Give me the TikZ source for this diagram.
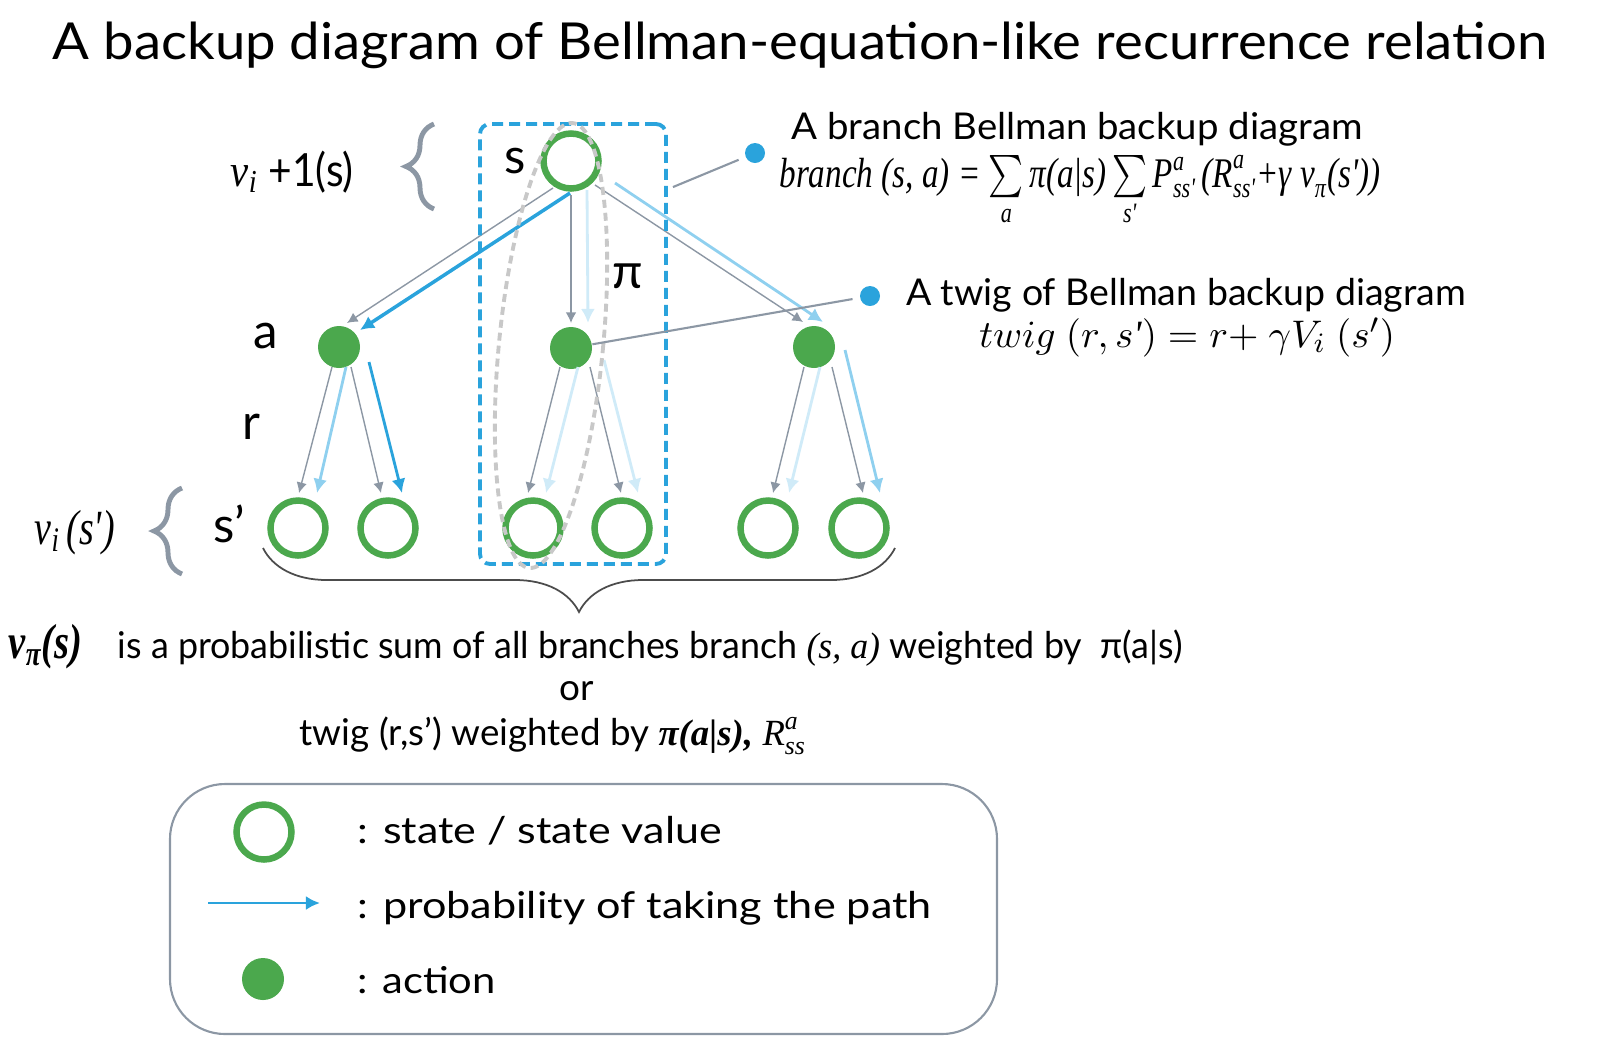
\documentclass[tikz,border=0pt]{standalone}
\usepackage{amsmath}
\usepackage[no-math]{fontspec}
\setmainfont{Lato}
\newfontfamily\tms{Liberation Serif}
\usetikzlibrary{arrows.meta,decorations.pathreplacing}

\definecolor{stgreen}{HTML}{4BA84D}
\definecolor{pblue}{HTML}{2AA3DC}
\definecolor{plight}{HTML}{8FD0EF}
\definecolor{pvlight}{HTML}{D0EBF8}
\definecolor{edgegrey}{HTML}{8C97A4}
\definecolor{ovalgrey}{HTML}{C8C8C8}

% times italic pieces and width fitting
\newcommand{\ti}[1]{\text{\tms\itshape #1}}
\newcommand{\sqz}[2]{\resizebox{#1}{\height}{#2}}

\tikzset{
  state/.style={circle, draw=stgreen, line width=0.065cm, minimum size=0.55cm, inner sep=0pt},
  action/.style={circle, fill=stgreen, minimum size=0.42cm, inner sep=0pt},
  callout/.style={circle, fill=pblue, minimum size=0.2cm, inner sep=0pt},
  gedge/.style={edgegrey, line width=0.4pt, -{Latex[length=3pt,width=3pt]}},
  bedge/.style={pblue, line width=0.8pt, -{Latex[length=4pt,width=4pt]}},
  ledge/.style={plight, line width=0.8pt, -{Latex[length=4pt,width=4pt]}},
  vedge/.style={pvlight, line width=0.8pt, -{Latex[length=4pt,width=4pt]}},
  lbl/.style={inner sep=0pt, font=\fontsize{14}{16}\selectfont},
  txt/.style={inner sep=0pt, anchor=base},
  gbrace/.style={decorate, decoration={brace, amplitude=0.28cm}, edgegrey, line width=1.4pt},
}

\begin{document}
\begin{tikzpicture}
\useasboundingbox (0,0) rectangle (16,-10.5);
\node[txt, font=\fontsize{14.5}{17}\selectfont] (title) at (8.00,-0.59) {\sqz{14.94cm}{A backup diagram of Bellman-equation-like recurrence relation}};

% states and actions
\node[state] (s) at (5.71,-1.61) {};
\node[action] (a1) at (3.39,-3.47) {};
\node[action] (a2) at (5.71,-3.48) {};
\node[action] (a3) at (8.14,-3.47) {};
\node[state] (l1) at (2.98,-5.28) {};
\node[state] (l2) at (3.88,-5.28) {};
\node[state] (l3) at (5.33,-5.28) {};
\node[state] (l4) at (6.22,-5.28) {};
\node[state] (l5) at (7.68,-5.28) {};
\node[state] (l6) at (8.59,-5.28) {};

\node[lbl] (ls) at (5.15,-1.61) {s};
\node[lbl] (la) at (2.66,-3.36) {a};
\node[lbl] (lr) at (2.51,-4.27) {r};
\node[lbl] (lsp) at (2.29,-5.24) {s'};
\node[lbl] (lpi) at (6.28,-2.76) {π};

% s to actions
\draw[gedge] ([shift={(-0.18,-0.27)}]s.center) -- ([shift={(0.08,0.24)}]a1.center);
\draw[bedge, line width=1pt] ([shift={(-0.01,-0.32)}]s.center) -- ([shift={(0.21,0.17)}]a1.center);
\draw[gedge] ([shift={(0,-0.34)}]s.center) -- ([shift={(0,0.25)}]a2.center);
\draw[vedge] ([shift={(0.16,-0.29)}]s.center) -- ([shift={(0.17,0.25)}]a2.center);
\draw[gedge] ([shift={(0.24,-0.24)}]s.center) -- ([shift={(-0.11,0.25)}]a3.center);
\draw[ledge] ([shift={(0.44,-0.22)}]s.center) -- ([shift={(0.09,0.25)}]a3.center);

% actions to next states
\draw[gedge] ([shift={(-0.07,-0.20)}]a1.center) -- ([shift={(0.01,0.35)}]l1.center);
\draw[ledge] ([shift={(0.07,-0.20)}]a1.center) -- ([shift={(0.19,0.35)}]l1.center);
\draw[gedge] ([shift={(0.12,-0.20)}]a1.center) -- ([shift={(-0.07,0.35)}]l2.center);
\draw[bedge] ([shift={(0.30,-0.15)}]a1.center) -- ([shift={(0.14,0.35)}]l2.center);
\draw[gedge] ([shift={(-0.11,-0.19)}]a2.center) -- ([shift={(-0.05,0.35)}]l3.center);
\draw[vedge] ([shift={(0.07,-0.19)}]a2.center) -- ([shift={(0.13,0.35)}]l3.center);
\draw[gedge] ([shift={(0.19,-0.19)}]a2.center) -- ([shift={(-0.01,0.35)}]l4.center);
\draw[vedge] ([shift={(0.33,-0.12)}]a2.center) -- ([shift={(0.16,0.35)}]l4.center);
\draw[gedge] ([shift={(-0.10,-0.20)}]a3.center) -- ([shift={(0.05,0.35)}]l5.center);
\draw[vedge] ([shift={(0.06,-0.20)}]a3.center) -- ([shift={(0.21,0.35)}]l5.center);
\draw[gedge] ([shift={(0.18,-0.20)}]a3.center) -- ([shift={(0.04,0.35)}]l6.center);
\draw[ledge] ([shift={(0.31,-0.03)}]a3.center) -- ([shift={(0.21,0.35)}]l6.center);

% branch box and twig oval
\node[draw=pblue, line width=1.1pt, dash pattern=on 0.11cm off 0.06cm, rounded corners=0.1cm,
  minimum width=1.86cm, minimum height=4.40cm, inner sep=0pt] (box) at (5.73,-3.44) {};
\draw[ovalgrey, line width=1.1pt, dash pattern=on 0.08cm off 0.05cm, rotate around={-5.6:(5.51,-3.455)}]
  (5.51,-3.455) ellipse [x radius=0.52, y radius=2.235];

% braces
\draw[gbrace] (4.34,-2.09) -- (4.34,-1.24);
\draw[gbrace] (1.82,-5.74) -- (1.82,-4.88);
\draw[decorate, decoration={brace, mirror, amplitude=0.64cm}, black!70, line width=0.5pt]
  ([shift={(-0.35,-0.20)}]l1.center) -- ([shift={(0.36,-0.20)}]l6.center);

\node[txt, anchor=base west, font=\fontsize{13}{15}\selectfont] (vnext) at (2.30,-1.86) {\sqz{1.23cm}{\ti{v}\textsubscript{\ti{i}} +1(s)}};
\node[txt, anchor=base west, font=\fontsize{14}{16}\selectfont] (vprev) at (0.34,-5.44) {\sqz{0.80cm}{\ti{v}\textsubscript{\ti{i}}\,\ti{(s')}}};

% callouts
\node[callout] (d1) at (7.55,-1.53) {};
\node[callout] (d2) at (8.70,-2.96) {};
\draw[edgegrey, line width=0.6pt, shorten >=0.07cm] ([shift={(0.05,-0.65)}]box.north east) -- (d1);
\draw[edgegrey, line width=0.6pt, shorten >=0.07cm] (a2) -- (d2);
\node[txt, font=\fontsize{10.5}{13}\selectfont] (hbranch) at (10.77,-1.39) {\sqz{5.71cm}{A branch Bellman backup diagram}};
\node[txt, font=\fontsize{12}{14}\selectfont] (fbranch) at (10.80,-1.87) {\sqz{6.01cm}{\ti{branch (s, a) =} $\sum\limits_{\ti{a}}\ti{π(a|s)}\sum\limits_{\ti{s'}}\ti{P}^{\ti{a}}_{\ti{ss'}}\,\ti{(R}^{\ti{a}}_{\ti{ss'}}\ti{+γ v}_{\ti{π}}\ti{(s'))}$}};
\node[txt, font=\fontsize{10.5}{13}\selectfont] (htwig) at (11.86,-3.05) {\sqz{5.60cm}{A twig of Bellman backup diagram}};
\node[txt, font=\fontsize{11}{13}\selectfont] (ftwig) at (11.87,-3.47) {\sqz{4.16cm}{$twig\ (r,s\ti{'}) = r{+}\ \gamma V_i\ (s')$}};

% summary
\node[txt, anchor=base west, font=\fontsize{14}{16}\selectfont] (vpi) at (0.08,-6.58) {\sqz{0.74cm}{\ti{\bfseries v}\textsubscript{\ti{\bfseries π}}\ti{\bfseries (s)}}};
\node[txt, anchor=base west, font=\fontsize{10.5}{13}\selectfont] (sumline) at (1.17,-6.58) {\sqz{10.65cm}{is a probabilistic sum of all branches branch \ti{(s, a)} weighted by \ π(a|s)}};
\node[txt, font=\fontsize{10.5}{13}\selectfont] (ortxt) at (5.77,-7.00) {or};
\node[txt, anchor=base west, font=\fontsize{10.5}{13}\selectfont] (twigline) at (2.99,-7.45) {\sqz{5.07cm}{twig (r,s') weighted by \ti{\bfseries π(a|s),} $\ti{R}^{\ti{a}}_{\ti{ss}}$}};

% legend
\node[draw=edgegrey, line width=0.6pt, rounded corners=0.55cm, minimum width=8.27cm, minimum height=2.50cm, inner sep=0pt] (legend) at (5.835,-9.09) {};
\node[state] (lstate) at (2.64,-8.32) {};
\coordinate (lpa) at (2.08,-9.03);
\coordinate (lpb) at (3.20,-9.03);
\draw[bedge] (lpa) -- (lpb);
\node[action] (laction) at (2.63,-9.79) {};
\node[txt, anchor=base west, font=\fontsize{10.5}{13}\selectfont] (tstate) at (3.57,-8.43) {\sqz{3.64cm}{: state / state value}};
\node[txt, anchor=base west, font=\fontsize{10.5}{13}\selectfont] (tpath) at (3.57,-9.18) {\sqz{5.74cm}{: probability of taking the path}};
\node[txt, anchor=base west, font=\fontsize{10.5}{13}\selectfont] (taction) at (3.57,-9.93) {\sqz{1.38cm}{: action}};
\end{tikzpicture}
\end{document}
